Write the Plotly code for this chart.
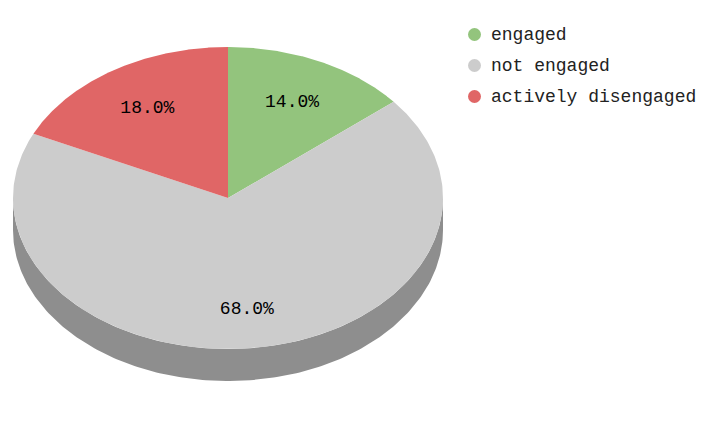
import numpy as np
import plotly.graph_objects as go

labels = ["engaged", "not engaged", "actively disengaged"]
values = [14.0, 68.0, 18.0]
colors = ["#93c47d", "#cccccc", "#e06666"]

W, H = 710, 430
OFF = 8  # page body margin of the written html
CX, CY, RX, RY, DEPTH = 228, 198, 215, 151, 32
FONT = "Courier New, Liberation Mono, monospace"


def darken(hexc, f=0.7):
    r, g, b = (int(hexc[i:i + 2], 16) for i in (1, 3, 5))
    return "#%02x%02x%02x" % (int(r * f), int(g * f), int(b * f))


def pt(theta, dy=0.0, frac=1.0):
    return CX + frac * RX * np.sin(theta), CY - frac * RY * np.cos(theta) + dy


fig = go.Figure()
total = sum(values)
fracs = np.array(values) / total
ends = np.cumsum(fracs) * 2 * np.pi
starts = ends - fracs * 2 * np.pi

# sides (visible front half: theta in [pi/2, 3pi/2])
for a, b, c in zip(starts, ends, colors):
    lo, hi = max(a, np.pi / 2), min(b, 3 * np.pi / 2)
    if hi <= lo:
        continue
    t = np.linspace(lo, hi, 200)
    xt, yt = pt(t)
    xb, yb = pt(t[::-1], DEPTH)
    fig.add_trace(go.Scatter(x=np.r_[xt, xb], y=np.r_[yt, yb], mode="lines",
                             fill="toself", fillcolor=darken(c),
                             line=dict(width=0, color=darken(c)),
                             hoverinfo="skip", showlegend=False))

# top faces
for a, b, c, lab in zip(starts, ends, colors, labels):
    t = np.linspace(a, b, 300)
    x, y = pt(t)
    fig.add_trace(go.Scatter(x=np.r_[CX, x, CX], y=np.r_[CY, y, CY], mode="lines",
                             fill="toself", fillcolor=c,
                             line=dict(width=0, color=c),
                             name=lab, hoverinfo="name", showlegend=False))

# slice labels
lx, ly, lt = [], [], []
for a, b, v in zip(starts, ends, values):
    m = (a + b) / 2
    x, y = pt(m, frac=0.7)
    y += DEPTH * 0.2 * max(0.0, -np.cos(m))
    lx.append(x); ly.append(y); lt.append("%.1f%%" % (v / total * 100))
fig.add_trace(go.Scatter(x=lx, y=ly, text=lt, mode="text",
                         textfont=dict(family=FONT, size=18, color="#000000"),
                         hoverinfo="skip", showlegend=False))

# legend
LEG_X, LEG_Y0, LEG_DY = 474.5, 34.5, 31
ly = [LEG_Y0 + i * LEG_DY for i in range(len(labels))]
fig.add_trace(go.Scatter(x=[LEG_X] * len(labels), y=ly, mode="markers",
                         marker=dict(size=13, color=colors, line=dict(width=0)),
                         hoverinfo="skip", showlegend=False))
for yy, lab in zip(ly, labels):
    fig.add_annotation(x=LEG_X + 14, y=yy, text=lab, showarrow=False,
                       xanchor="left", yanchor="middle", xref="x", yref="y",
                       font=dict(family=FONT, size=18, color="#222222"))

fig.update_layout(
    width=W, height=H, margin=dict(l=0, r=0, t=0, b=0),
    paper_bgcolor="white", plot_bgcolor="white",
    xaxis=dict(range=[OFF, W + OFF], visible=False, fixedrange=True),
    yaxis=dict(range=[H + OFF, OFF], visible=False, fixedrange=True),
    showlegend=False,
)
fig.write_html("out.html")
